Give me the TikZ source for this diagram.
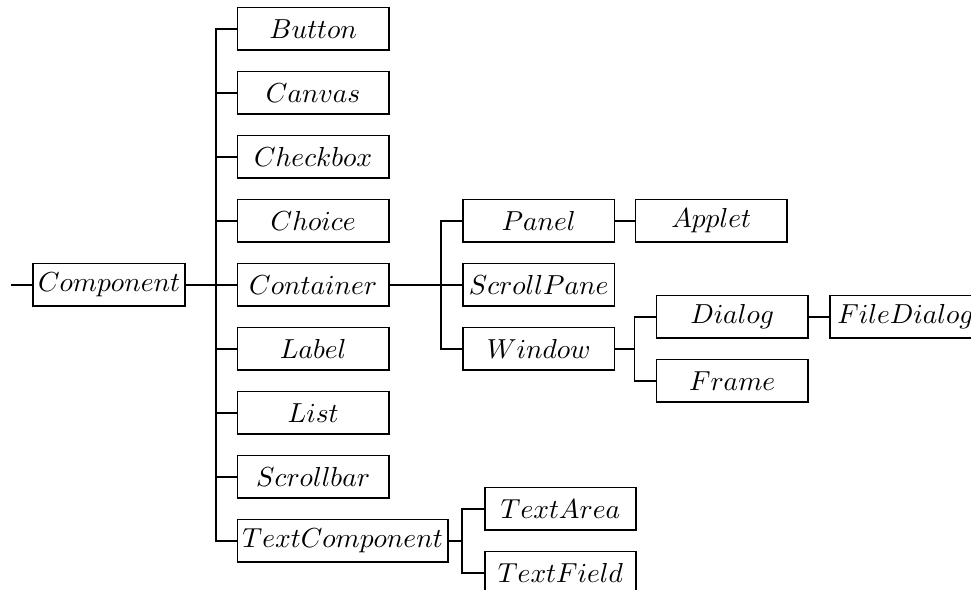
\documentclass[tikz,border=0pt]{standalone}
\begin{document}
\begin{tikzpicture}[x=0.3636pt,y=-0.3636pt,
  cls/.style={draw,line width=0.6pt,anchor=west,minimum width=55pt,minimum height=15.5pt,inner xsep=1.8pt,inner ysep=0pt},
  conn/.style={line width=0.6pt}]
\clip (0,0) rectangle (971,590);
\fill[white] (0,0) rectangle (971,590);
% root
\node[cls] (comp) at (32.3,284.7) {$Component$};
\coordinate (in) at (11,284.7);
% level 1
\node[cls] (button) at (236.7,28.7) {$Button$};
\node[cls] (canvas) at (236.7,92.7) {$Canvas$};
\node[cls] (checkbox) at (236.7,156.7) {$Checkbox$};
\node[cls] (choice) at (236.7,220.7) {$Choice$};
\node[cls] (container) at (236.7,284.7) {$Container$};
\node[cls] (label) at (236.7,348.7) {$Label$};
\node[cls] (list) at (236.7,412.7) {$List$};
\node[cls] (scrollbar) at (236.7,476.7) {$Scrollbar$};
\node[cls] (textcomp) at (236.7,540.7) {$TextComponent$};
% level 2
\node[cls] (panel) at (462.3,220.7) {$Panel$};
\node[cls] (scrollpane) at (462.3,284.7) {$ScrollPane$};
\node[cls] (window) at (462.3,348.7) {$Window$};
\node[cls] (textarea) at (484,508.7) {$TextArea$};
\node[cls] (textfield) at (484,572.7) {$TextField$};
% level 3
\node[cls] (applet) at (634.7,220.7) {$Applet$};
\node[cls] (dialog) at (655.7,316.7) {$Dialog$};
\node[cls] (frame) at (655.7,380.7) {$Frame$};
% level 4
\node[cls] (filedialog) at (829,316.7) {$FileDialog$};
% junctions
\coordinate (j1) at (216,284.7);
\coordinate (j2) at (441,284.7);
\coordinate (j3) at (634.5,348.7);
\coordinate (j4) at (462.3,540.7);
% connectors
\draw[conn] (in) -- (comp.west);
\draw[conn] (comp.east) -- (j1);
\foreach \c in {button,canvas,checkbox,choice,container,label,list,scrollbar,textcomp}
  \draw[conn] (j1) |- (\c.west);
\draw[conn] (container.east) -- (j2);
\foreach \c in {panel,scrollpane,window}
  \draw[conn] (j2) |- (\c.west);
\draw[conn] (panel.east) -- (applet.west);
\draw[conn] (window.east) -- (j3);
\foreach \c in {dialog,frame}
  \draw[conn] (j3) |- (\c.west);
\draw[conn] (dialog.east) -- (filedialog.west);
\draw[conn] (textcomp.east) -- (j4);
\foreach \c in {textarea,textfield}
  \draw[conn] (j4) |- (\c.west);
\end{tikzpicture}
\end{document}
